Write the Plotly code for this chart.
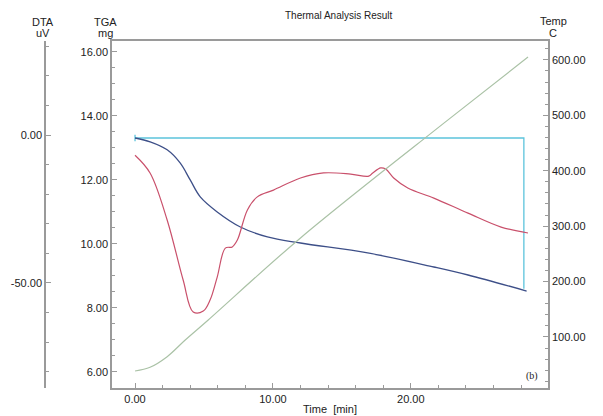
import plotly.graph_objects as go

# Time axis (min) and measured series
tga_time = [0.0, 1.1, 2.33, 3.27, 4.0, 4.73, 5.96, 7.64, 9.6, 12.0, 16.87, 21.67, 24.15, 28.4]
tga_mass = [13.31, 13.19, 12.94, 12.53, 12.0, 11.47, 11.0, 10.53, 10.22, 10.03, 9.72, 9.28, 9.03, 8.53]

dta_time = [0.0, 1.09, 2.33, 3.49, 4.22, 4.95, 5.45, 5.96, 6.55, 7.05, 7.42, 8.15, 8.87,
            10.04, 12.0, 13.67, 15.64, 16.95, 17.24, 17.82, 18.18, 18.76, 19.78, 21.67,
            24.15, 26.55, 28.5]
dta_uv = [-6.8, -12.8, -28.7, -49.0, -59.8, -59.5, -55.7, -48.0, -38.2, -37.8, -35.5, -25.3,
          -20.9, -18.6, -14.5, -12.8, -13.2, -13.9, -12.8, -11.1, -11.5, -14.5, -17.9, -21.3,
          -26.4, -31.1, -33.1]

temp_time = [0.0, 1.09, 2.33, 3.64, 5.31, 12.0, 22.7, 28.5]
temp_c = [38.6, 45.3, 64.4, 94.5, 130.7, 278.7, 491.7, 605.0]

# Mass-loss bracket on the TGA scale
loss_time = [0.0, 0.0, 0.0, 28.2, 28.2]
loss_mass = [13.41, 13.21, 13.31, 13.31, 8.6]

# DTA labelled ticks (plain hyphen for the minus sign)
dta_tickvals = [0, -50]
dta_ticktext = ["0.00", "-50.00"]

W, H = 603, 416
X0, X1 = 112, 548
Y_TOP, Y_BOT = 41, 388

tick_font = dict(family="Liberation Sans, Arial, sans-serif", size=11, color="#222")
axis_col = "#9a9a9a"

fig = go.Figure()
fig.add_trace(go.Scatter(x=loss_time, y=loss_mass, mode="lines",
                         line=dict(color="#5cc4dc", width=1.3), yaxis="y"))
fig.add_trace(go.Scatter(x=temp_time, y=temp_c, mode="lines", line_shape="spline",
                         line=dict(color="#aac2a6", width=1.2), yaxis="y3"))
fig.add_trace(go.Scatter(x=tga_time, y=tga_mass, mode="lines", line_shape="spline",
                         line=dict(color="#3d4f88", width=1.3), yaxis="y"))
fig.add_trace(go.Scatter(x=dta_time, y=dta_uv, mode="lines", line_shape="spline",
                         line=dict(color="#c9506b", width=1.2), yaxis="y2"))

common = dict(showgrid=False, zeroline=False, showline=True, linecolor=axis_col, linewidth=1.5,
              ticks="inside", tickcolor=axis_col, ticklen=5, tickwidth=1,
              tickfont=tick_font, tickformat=".2f", automargin=False)

fig.update_layout(
    width=W, height=H,
    margin=dict(l=0, r=0, t=0, b=0),
    paper_bgcolor="white", plot_bgcolor="white",
    showlegend=False,
    xaxis=dict(domain=[X0 / W, X1 / W], range=[-1.67, 29.95], dtick=10, tick0=0,
               mirror=True, minor=dict(dtick=2, ticks="inside", ticklen=3, tickcolor=axis_col),
               **common),
    yaxis=dict(domain=[(H - Y_BOT) / H, (H - Y_TOP) / H], range=[5.5, 16.34], dtick=2,
               tick0=0, anchor="x", side="left",
               minor=dict(dtick=0.5, ticks="inside", ticklen=3, tickcolor=axis_col), **common),
    yaxis2=dict(overlaying="y", anchor="free", position=45 / W, side="left",
                range=[-85.5, 31.8], tickmode="array", tickvals=dta_tickvals,
                ticktext=dta_ticktext,
                minor=dict(tickmode="linear", tick0=0, dtick=10, ticks="inside", ticklen=3,
                           tickcolor=axis_col), **common),
    yaxis3=dict(overlaying="y", anchor="x", side="right", range=[7.9, 634], dtick=100, tick0=0,
                minor=dict(dtick=20, ticks="inside", ticklen=3, tickcolor=axis_col), **common),
)

label_font = dict(family="Liberation Sans, Arial, sans-serif", size=11, color="#222")
notes = [
    ("Thermal Analysis Result", 338, 16, 10),
    ("DTA", 43, 22, 11), ("uV", 43, 33, 11),
    ("TGA", 105, 22, 11), ("mg", 105, 33, 11),
    ("Temp", 553, 21, 11), ("C", 553, 33, 11),
    ("Time  [min]", 330, 409, 11),
]
for text, x, y, size in notes:
    fig.add_annotation(text=text, x=x / W, y=1 - y / H, xref="paper", yref="paper",
                       showarrow=False, xanchor="center", yanchor="middle",
                       font=dict(label_font, size=size))
fig.add_annotation(text="(b)", x=532 / W, y=1 - 376 / H, xref="paper", yref="paper",
                   showarrow=False, xanchor="center", yanchor="middle",
                   font=dict(family="Liberation Serif, Times New Roman, serif", size=10, color="#222"))

fig.write_html("out.html")
